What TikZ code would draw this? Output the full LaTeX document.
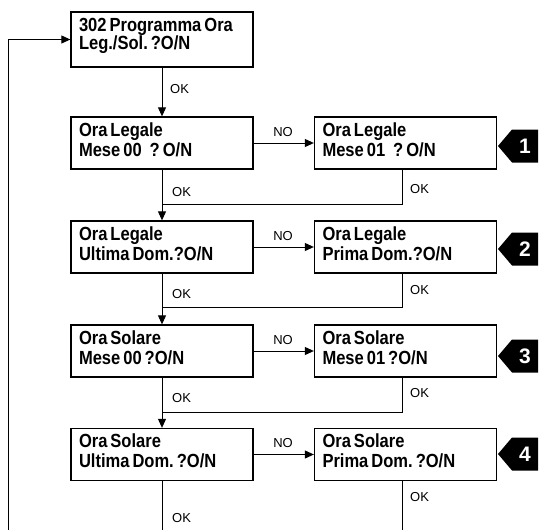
\documentclass[tikz,border=0pt]{standalone}
\usepackage{fontspec}
\setmainfont{Liberation Sans}
\newfontfamily\boxfont{Liberation Sans}[FakeStretch=0.87]
\newcommand\tsp{\spaceskip=3pt plus 1pt minus 0.5pt\relax}
\newcommand\tend{\par\nointerlineskip\vskip7pt\hrule height 0pt width 0pt\relax}
\frenchspacing
\usetikzlibrary{arrows.meta}
\begin{document}
\begin{tikzpicture}[x=1pt,y=-1pt,
  stepbox/.style={draw,line width=1.3pt,rectangle,minimum width=182pt,minimum height=52pt,
    text width=166pt,align=left,inner sep=0pt,
    font=\boxfont\bfseries\fontsize{19}{20}\selectfont},
  conn/.style={line width=0.9pt},
  arr/.style={conn,-{Triangle[length=9pt,width=8pt]}},
  lbl/.style={font=\fontsize{13}{13}\selectfont,inner sep=0pt},
  badgefill/.style={fill=black},
  badgenum/.style={text=white,font=\bfseries\fontsize{21}{21}\selectfont,inner sep=0pt}]
\useasboundingbox (0,0) rectangle (541,530);

% boxes
\node[stepbox,minimum height=55pt] (top) at (162,39.5) {\tsp 302 Programma Ora\\[-2pt]Leg./Sol. ?O/N\tend};
\node[stepbox] (b1l) at (162,143) {\tsp Ora Legale\\Mese 00\hspace{5pt} ? O/N\tend};
\node[stepbox] (b1r) at (405.5,143) {\tsp Ora Legale\\Mese 01\hspace{5pt} ? O/N\tend};
\node[stepbox] (b2l) at (162,247) {\tsp Ora Legale\\Ultima Dom.?O/N\tend};
\node[stepbox] (b2r) at (405.5,247) {\tsp Ora Legale\\Prima Dom.?O/N\tend};
\node[stepbox] (b3l) at (162,351) {\tsp Ora Solare\\Mese 00 ?O/N\tend};
\node[stepbox] (b3r) at (405.5,351) {\tsp Ora Solare\\Mese 01 ?O/N\tend};
\node[stepbox] (b4l) at (162,454.5) {\tsp Ora Solare\\Ultima Dom. ?O/N\tend};
\node[stepbox] (b4r) at (405.5,454.5) {\tsp Ora Solare\\Prima Dom. ?O/N\tend};

% merge / end coordinates
\coordinate (m1) at (162,204);
\coordinate (m2) at (162,307);
\coordinate (m3) at (162,412);
\coordinate (endl) at (162,530);
\coordinate (endr) at (402,530);
\coordinate (retb) at (8,530);
\coordinate (rett) at (8,39.5);

% vertical flow
\draw[arr] (top.south) -- (b1l.north);
\draw[arr] (b1l.south) -- (b2l.north);
\draw[arr] (b2l.south) -- (b3l.north);
\draw[arr] (b3l.south) -- (b4l.north);
\draw[conn] (b4l.south) -- (endl);

% NO arrows
\draw[arr] (b1l.east) -- (b1r.west);
\draw[arr] (b2l.east) -- (b2r.west);
\draw[arr] (b3l.east) -- (b3r.west);
\draw[arr] (b4l.east) -- (b4r.west);

% right returns
\draw[conn] (b1r.south -| endr) |- (m1);
\draw[conn] (b2r.south -| endr) |- (m2);
\draw[conn] (b3r.south -| endr) |- (m3);
\draw[conn] (b4r.south -| endr) -- (endr);

% loop back
\draw[arr] (retb) -- (rett) -- (top.west);

% labels
\node[lbl,anchor=west] (ok0) at (170,89) {OK};
\node[lbl,anchor=west] (ok1l) at (172,192) {OK};
\node[lbl,anchor=west] (ok1r) at (410,189) {OK};
\node[lbl,anchor=west] (ok2l) at (172,294) {OK};
\node[lbl,anchor=west] (ok2r) at (410,290) {OK};
\node[lbl,anchor=west] (ok3l) at (172,398) {OK};
\node[lbl,anchor=west] (ok3r) at (410,393) {OK};
\node[lbl,anchor=west] (ok4l) at (172,518) {OK};
\node[lbl,anchor=west] (ok4r) at (410,497) {OK};
\node[lbl] (no1) at (283,132) {NO};
\node[lbl] (no2) at (283,236) {NO};
\node[lbl] (no3) at (283,340) {NO};
\node[lbl] (no4) at (283,443) {NO};

% badges
\foreach \n/\y in {1/146,2/249,3/356,4/454}{
  \fill[badgefill] (498,\y) -- (512,\y-16.5) -- (538,\y-16.5) -- (538,\y+16.5) -- (512,\y+16.5) -- cycle;
  \node[badgenum] (badge\n) at (525,\y) {\n};
}
\end{tikzpicture}
\end{document}
